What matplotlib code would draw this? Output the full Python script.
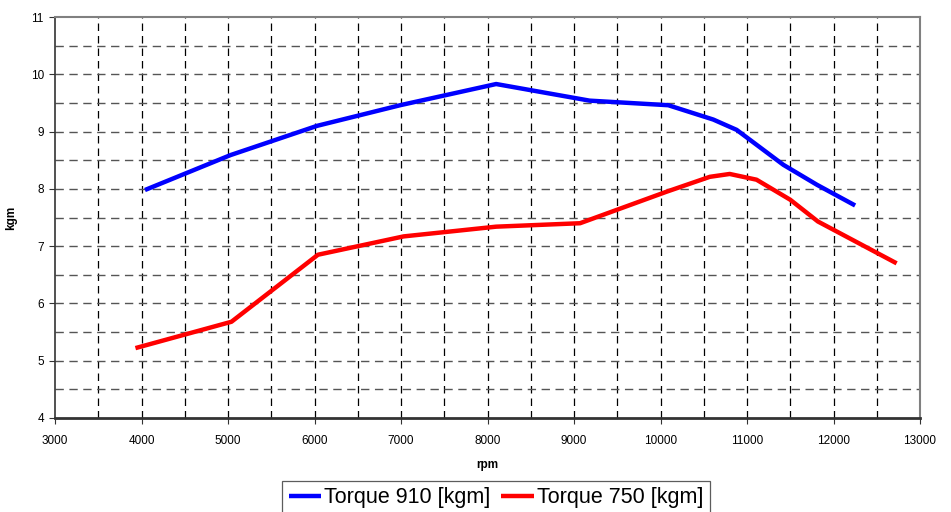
import numpy as np
import matplotlib.pyplot as plt
from matplotlib.ticker import MultipleLocator

plt.rcParams['font.family'] = ['Liberation Sans', 'DejaVu Sans']

# torque curves
rpm_910 = [4040, 5030, 6030, 6990, 8100, 9180, 10090, 10610, 10880, 11420, 11810, 12250]
torque_910 = [7.98, 8.59, 9.10, 9.46, 9.83, 9.54, 9.46, 9.21, 9.03, 8.42, 8.07, 7.71]

rpm_750 = [3930, 5040, 6040, 7030, 8100, 9070, 10070, 10570, 10800, 11110, 11500, 11820, 12730]
torque_750 = [5.22, 5.68, 6.85, 7.17, 7.34, 7.40, 7.95, 8.21, 8.26, 8.16, 7.81, 7.43, 6.70]

fig = plt.figure(figsize=(9.51, 5.12), dpi=100)
ax = fig.add_axes([55/951, 1-418/512, 865/951, 401/512])

ax.plot(rpm_910, torque_910, color='#0000ff', lw=3.2, label='Torque 910 [kgm]', solid_capstyle='butt')
ax.plot(rpm_750, torque_750, color='#ff0000', lw=3.2, label='Torque 750 [kgm]', solid_capstyle='butt')

ax.set_xlim(3000, 13000)
ax.set_ylim(4, 11)
ax.xaxis.set_major_locator(MultipleLocator(1000))
ax.yaxis.set_major_locator(MultipleLocator(1))

# dashed grid every 500 rpm and 0.5 kgm
for x in np.arange(3500, 13000, 500):
    ax.axvline(x, color='black', lw=0.9, ls=(0, (6, 4)), zorder=0)
for y in np.arange(4.5, 11, 0.5):
    ax.axhline(y, color='#555555', lw=1.0, ls=(0, (6, 4)), zorder=0)

for side in ['top', 'right']:
    ax.spines[side].set_color('#808080')
    ax.spines[side].set_linewidth(1.5)
ax.spines['left'].set_color('#333333')
ax.spines['bottom'].set_color('#333333')
ax.spines['left'].set_linewidth(1.2)
ax.spines['bottom'].set_linewidth(2)

ax.tick_params(direction='out', length=4, width=0.8, labelsize=8.5, colors='#333333', labelcolor='black')
ax.tick_params(axis='x', pad=8)
ax.tick_params(axis='y', pad=4)

ax.set_xlabel('rpm', fontsize=8.5, fontweight='bold', labelpad=9)
ax.set_ylabel('kgm', fontsize=8.5, fontweight='bold', labelpad=10)

leg = ax.legend(loc='upper center', bbox_to_anchor=(0.510, -0.157), ncol=2, fontsize=15.5,
                frameon=True, fancybox=False, edgecolor='#333333', handlelength=1.5,
                handletextpad=0.15, columnspacing=0.5, borderpad=0.3, borderaxespad=0)
leg.get_frame().set_linewidth(0.9)

fig.savefig('out.png', dpi=100)
